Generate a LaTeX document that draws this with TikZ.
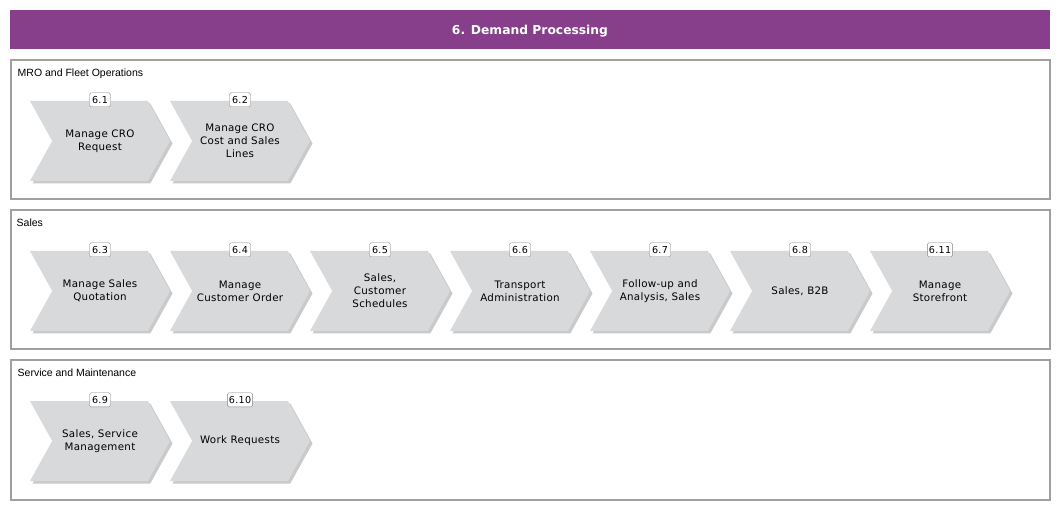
\documentclass[tikz,border=0pt]{standalone}
\usepackage{fontspec}
\setmainfont{DejaVu Sans}
\newfontfamily\grpfont{Liberation Sans}
\newfontfamily\stepfont[LetterSpace=3]{DejaVu Sans}
\usepackage{xcolor}
\usepackage{tikz}
\usetikzlibrary{shapes.symbols}
\usetikzlibrary{shadows}
\usetikzlibrary{positioning}

\definecolor{titlepurple}{RGB}{135,63,139}
\definecolor{stepgray}{RGB}{216,217,219}
\definecolor{framegray}{RGB}{160,160,160}

\begin{document}
\begin{tikzpicture}[x=1pt,y=-1pt,
          title/.style={fill=titlepurple,text=white,minimum width=1040pt,minimum height=39pt,
            text depth=0pt,font=\fontsize{12.3}{14}\selectfont\bfseries},
          grpbox/.style={draw=framegray,line width=2pt,minimum width=1039pt,minimum height=139pt},
          grplabel/.style={anchor=north west,inner sep=0pt,font=\grpfont\fontsize{10.5}{12}\selectfont},
          stepbox/.style={shape=signal,signal from=west,signal to=east,signal pointer angle=122,
            fill=stepgray,minimum width=140pt,minimum height=80pt,inner sep=0pt,align=center,
            font=\stepfont\fontsize{10.3}{13}\selectfont,
            drop shadow={shadow xshift=2.5pt,shadow yshift=-2.5pt,fill=black!35,opacity=.6}},
          tag/.style={draw=gray,fill=white,rounded corners=1.5pt,inner sep=1.5pt,
            minimum width=21pt,minimum height=14pt,font=\stepfont\fontsize{9.6}{10}\selectfont}]
  \useasboundingbox (0,0) rectangle (1060,510);

  % heading
  \node[title] (head) at (530,29.5) {6. Demand Processing};

  % lanes
  \node[grpbox] (mro) at (530,130) {};
  \node[grpbox] (sales) at (530,280) {};
  \node[grpbox] (serv) at (530,430) {};
  \node[grplabel] at ([xshift=8pt,yshift=-9.5pt]mro.north west) {MRO and Fleet Operations};
  \node[grplabel] at ([xshift=7pt,yshift=-9.5pt]sales.north west) {Sales};
  \node[grplabel] at ([xshift=8pt,yshift=-9.5pt]serv.north west) {Service and Maintenance};

  % MRO and Fleet Operations
  \node[stepbox] (s61) at (100,141) {Manage CRO\\Request};
  \node[stepbox] (s62) at (240,141) {Manage CRO\\Cost and Sales\\Lines};

  % Sales
  \node[stepbox] (s63) at (100,291) {Manage Sales\\Quotation};
  \node[stepbox] (s64) at (240,291) {Manage\\Customer Order};
  \node[stepbox] (s65) at (380,291) {Sales,\\Customer\\Schedules};
  \node[stepbox] (s66) at (520,291) {Transport\\Administration};
  \node[stepbox] (s67) at (660,291) {Follow-up and\\Analysis, Sales};
  \node[stepbox] (s68) at (800,291) {Sales, B2B};
  \node[stepbox] (s611) at (940,291) {Manage\\Storefront};

  % Service and Maintenance
  \node[stepbox] (s69) at (100,441) {Sales, Service\\Management};
  \node[stepbox] (s610) at (240,441) {Work Requests};

  % numbers
  \foreach \s/\n in {s61/6.1,s62/6.2,s63/6.3,s64/6.4,s65/6.5,s66/6.6,s67/6.7,s68/6.8,
                     s611/6.11,s69/6.9,s610/6.10}
    \node[tag] at ([yshift=1pt]\s.north) {\n};
\end{tikzpicture}
\end{document}
